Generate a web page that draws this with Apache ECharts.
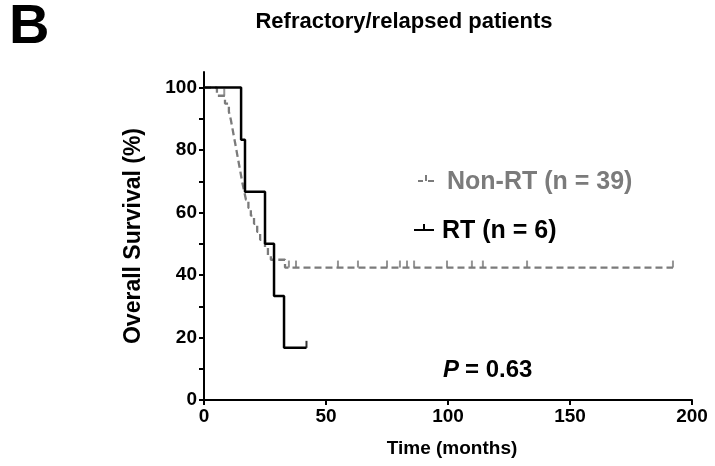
<!DOCTYPE html>
<html>
<head>
<meta charset="utf-8">
<script src="https://cdn.jsdelivr.net/npm/echarts@6/dist/echarts.min.js"></script>
<style>html,body{margin:0;padding:0;background:#fff;}#c{width:715px;height:466px;}</style>
</head>
<body>
<div id="c"></div>
<script>
// ---- data ----
const nonRtTimes = [0, 5.3, 8.6, 10.2, 11, 11.6, 12.2, 12.8, 13.4, 14, 14.6, 15.2, 15.8, 16.5, 17.2, 18.2, 19.2, 20.5, 21.8, 23, 25, 26.2, 27.4, 33.2, 192.2];
const nonRtSurv  = [100, 97.4, 94.9, 92.3, 89.7, 87.2, 84.6, 82.1, 79.5, 76.9, 74.4, 71.8, 69.2, 66.7, 64.1, 61.5, 59.0, 56.4, 53.8, 51.3, 48.7, 46.2, 44.9, 42.4, 42.4];
const nonRtCensorTimes = [8.3, 34.8, 37.7, 54.9, 63.1, 75, 80.3, 83.2, 86.1, 99.6, 109.8, 114.3, 132.4, 192.2];
const nonRtCensorSurv  = [97.4, 42.4, 42.4, 42.4, 42.4, 42.4, 42.4, 42.4, 42.4, 42.4, 42.4, 42.4, 42.4, 42.4];
const rtTimes = [0, 15.2, 16.8, 25, 28.7, 32.8, 42];
const rtSurv  = [100, 83.3, 66.7, 50, 33.3, 16.7, 16.7];
const rtCensorTimes = [42];
const rtCensorSurv  = [16.7];
const xTicks = [0, 50, 100, 150, 200];
const yLabels = [0, 20, 40, 60, 80, 100];
const yTicks = [0, 10, 20, 30, 40, 50, 60, 70, 80, 90, 100];
const seriesNames = ['Non-RT (n = 39)', 'RT (n = 6)'];
const pText = '0.63';

const zip = (a, b) => a.map((v, i) => [v, b[i]]);
const FONT = '"Liberation Sans", Arial, sans-serif';
const GRAY = '#7b7b7b';

const chart = echarts.init(document.getElementById('c'), null, {renderer: 'canvas'});
chart.setOption({
  animation: false,
  backgroundColor: '#fff',
  grid: {left: 204, right: 23, top: 72, bottom: 66},
  xAxis: {
    type: 'value', min: 0, max: 200, interval: 50,
    axisLine: {lineStyle: {color: '#000', width: 2}},
    axisTick: {length: 5, lineStyle: {color: '#000', width: 2}, customValues: xTicks},
    axisLabel: {customValues: xTicks, color: '#000', fontFamily: FONT, fontWeight: 'bold', fontSize: 19, margin: 7},
    splitLine: {show: false},
    name: 'Time (months)', nameLocation: 'middle', nameGap: 39,
    nameTextStyle: {color: '#000', fontFamily: FONT, fontWeight: 'bold', fontSize: 19, padding: [0, 0, 0, 8]}
  },
  yAxis: {
    type: 'value', min: 0, max: 105,
    axisLine: {show: true, lineStyle: {color: '#000', width: 2}},
    axisTick: {show: true, length: 5, lineStyle: {color: '#000', width: 2}, customValues: yTicks},
    axisLabel: {customValues: yLabels, color: '#000', fontFamily: FONT, fontWeight: 'bold', fontSize: 19, margin: 7},
    splitLine: {show: false},
    name: 'Overall Survival (%)', nameLocation: 'middle', nameGap: 59, nameRotate: 90,
    nameTextStyle: {color: '#000', fontFamily: FONT, fontWeight: 'bold', fontSize: 23}
  },
  series: [
    {
      name: seriesNames[0], type: 'line', step: 'end', showSymbol: false, symbol: 'none',
      data: zip(nonRtTimes, nonRtSurv),
      lineStyle: {color: GRAY, width: 2.3, type: [7, 4]}, z: 2
    },
    {
      type: 'scatter', data: zip(nonRtCensorTimes, nonRtCensorSurv),
      symbol: 'rect', symbolSize: [2, 7], symbolOffset: [0, -3.5],
      itemStyle: {color: GRAY}, z: 2
    },
    {
      name: seriesNames[1], type: 'line', step: 'end', showSymbol: false, symbol: 'none',
      data: zip(rtTimes, rtSurv),
      lineStyle: {color: '#000', width: 2.5}, z: 3
    },
    {
      type: 'scatter', data: zip(rtCensorTimes, rtCensorSurv),
      symbol: 'rect', symbolSize: [2, 7], symbolOffset: [0, -3.5],
      itemStyle: {color: '#000'}, z: 3
    }
  ],
  graphic: [
    {type: 'text', x: 9, y: 28, style: {text: 'B', font: 'bold 56px ' + FONT, fill: '#000', textVerticalAlign: 'middle'}},
    {type: 'text', x: 404, y: 22, style: {text: 'Refractory/relapsed patients', font: 'bold 22px ' + FONT, fill: '#000', textAlign: 'center', textVerticalAlign: 'middle'}},
    // legend: Non-RT
    {type: 'line', shape: {x1: 418, y1: 181, x2: 423, y2: 181}, style: {stroke: GRAY, lineWidth: 2}},
    {type: 'line', shape: {x1: 428, y1: 181, x2: 434, y2: 181}, style: {stroke: GRAY, lineWidth: 2}},
    {type: 'line', shape: {x1: 426, y1: 181, x2: 426, y2: 175}, style: {stroke: GRAY, lineWidth: 2}},
    {type: 'text', x: 447, y: 182, style: {text: seriesNames[0], font: 'bold 25px ' + FONT, fill: GRAY, textVerticalAlign: 'middle'}},
    // legend: RT
    {type: 'line', shape: {x1: 414, y1: 230, x2: 434, y2: 230}, style: {stroke: '#000', lineWidth: 2}},
    {type: 'line', shape: {x1: 424, y1: 230, x2: 424, y2: 224}, style: {stroke: '#000', lineWidth: 2}},
    {type: 'text', x: 442, y: 231, style: {text: seriesNames[1], font: 'bold 25px ' + FONT, fill: '#000', textVerticalAlign: 'middle'}},
    // P value
    {type: 'text', x: 443, y: 370, style: {text: 'P', font: 'italic bold 24px ' + FONT, fill: '#000', textVerticalAlign: 'middle'}},
    {type: 'text', x: 465, y: 370, style: {text: '= ' + pText, font: 'bold 24px ' + FONT, fill: '#000', textVerticalAlign: 'middle'}}
  ]
});
</script>
</body>
</html>
